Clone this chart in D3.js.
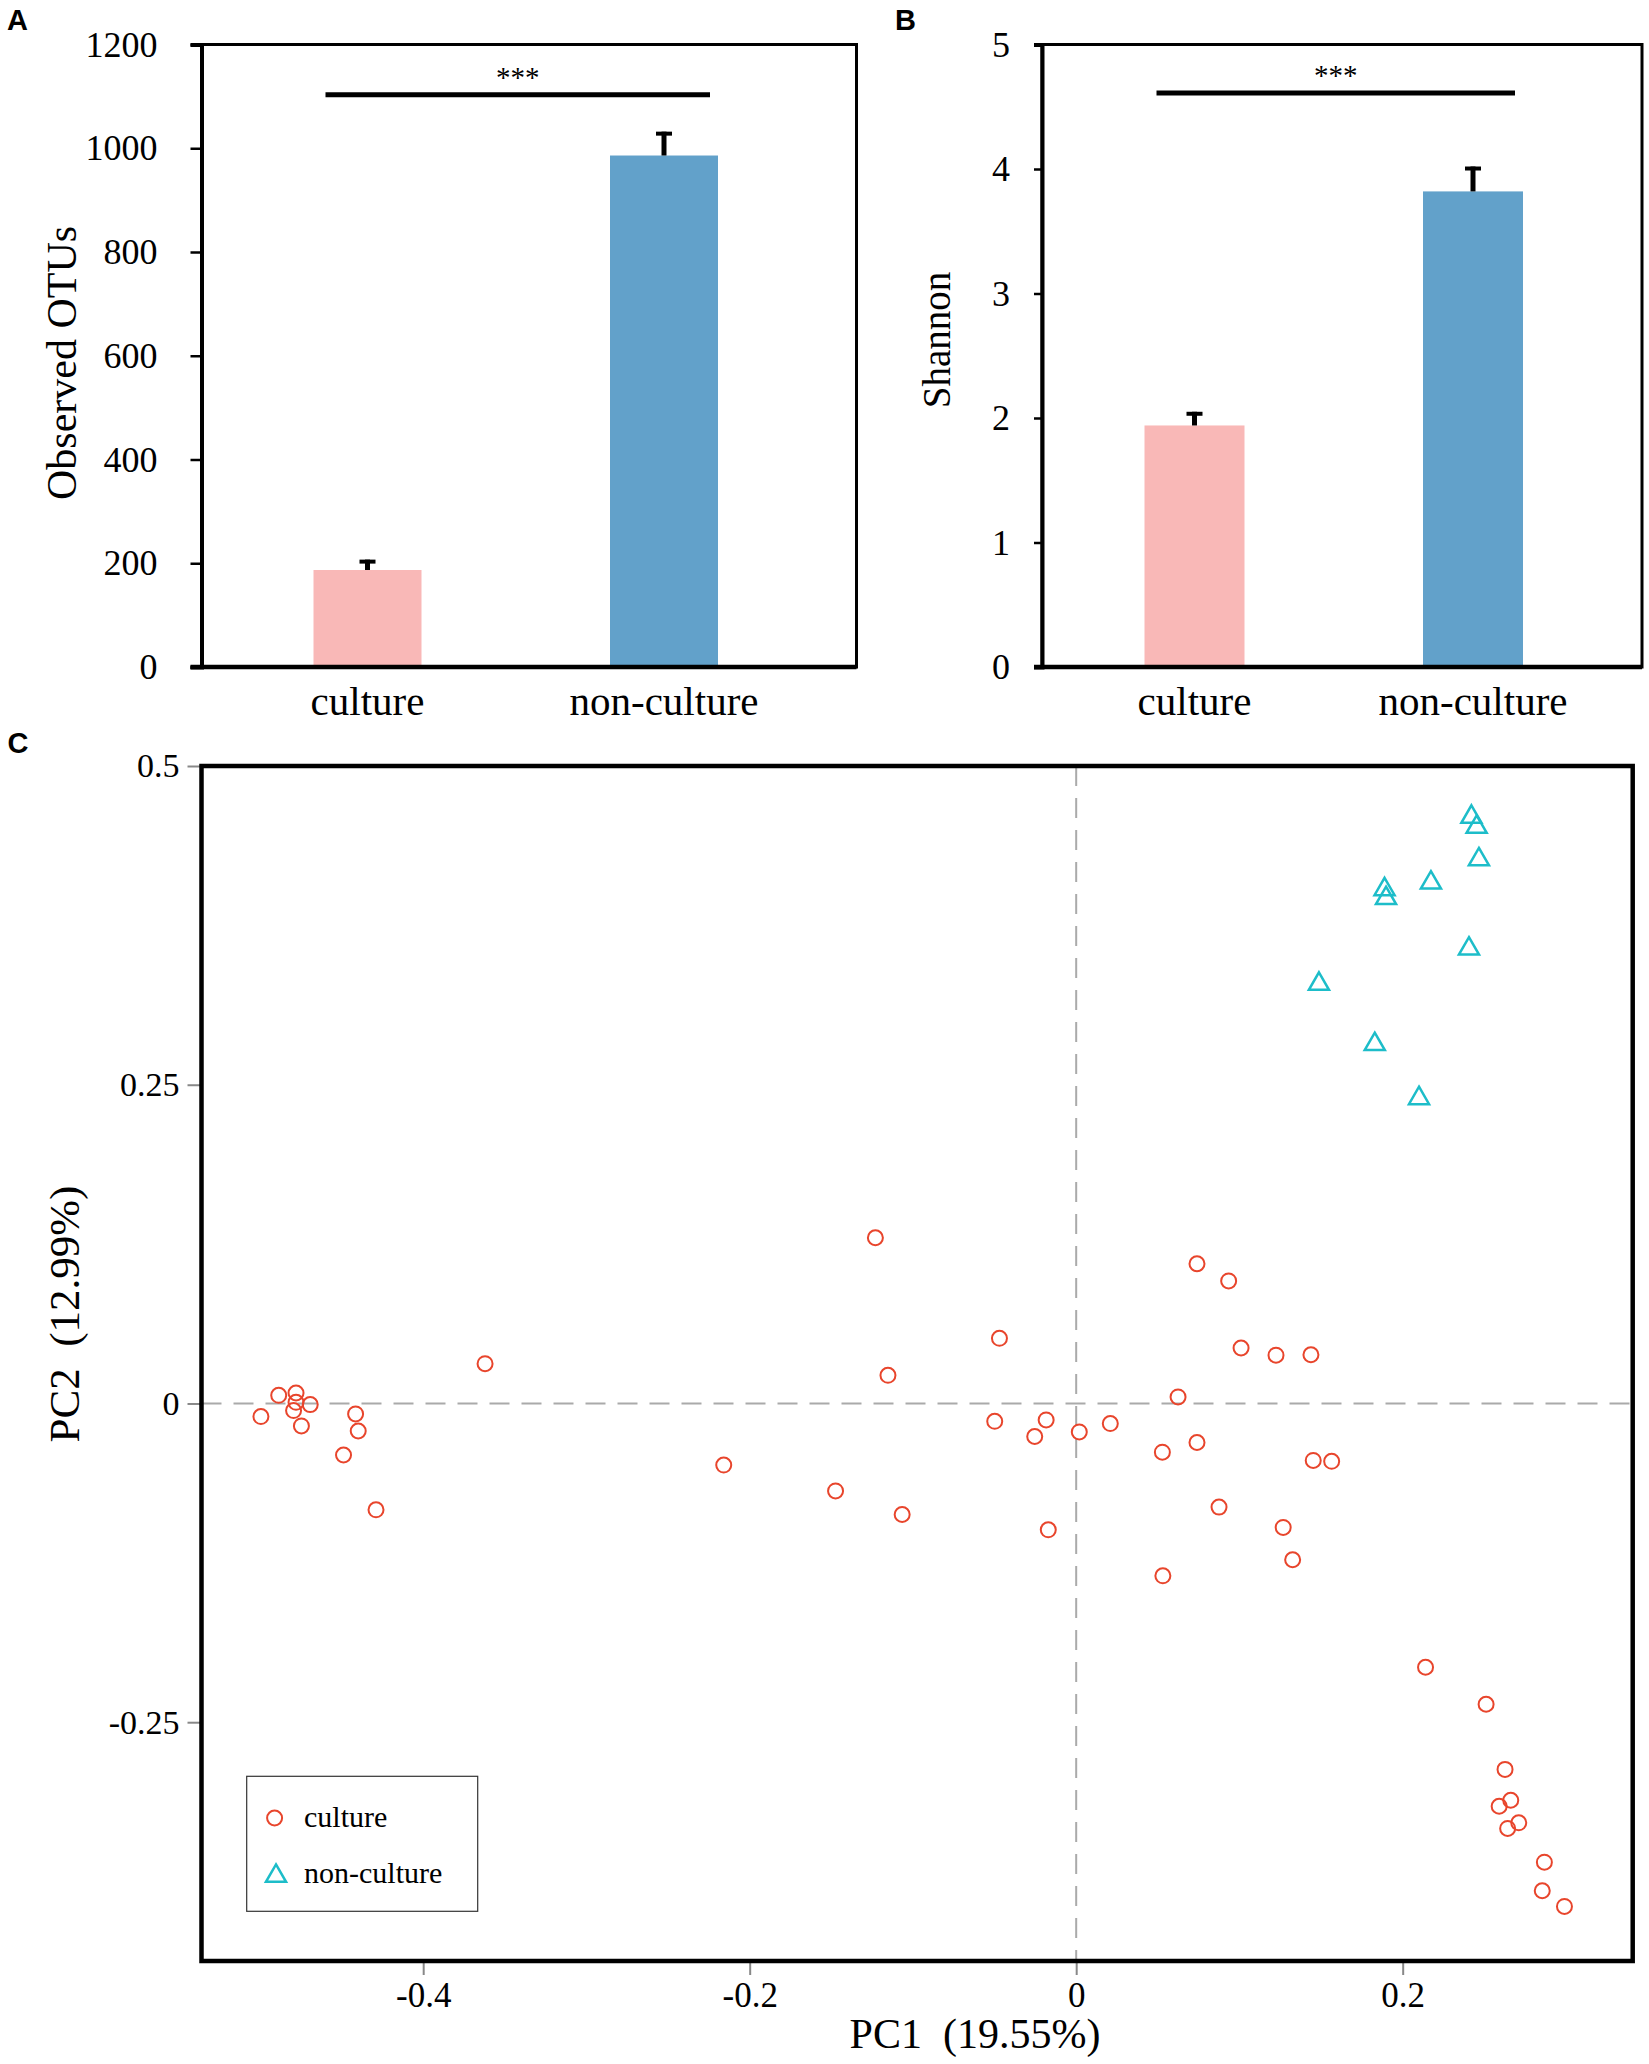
<!DOCTYPE html>
<html>
<head>
<meta charset="utf-8">
<script src="https://cdn.jsdelivr.net/npm/d3@7"></script>
<style>
    body { margin: 0; background: #fff; }
    svg { display: block; }
    text { font-family: 'Liberation Serif', 'Times New Roman', serif; }
    .panel-label { font-family: 'Liberation Sans', Arial, sans-serif; font-weight: bold; font-size: 29px; }
</style>
</head>
<body>
<div id="chart"></div>
<script>
// groups shared by A and B
const groups = ['culture', 'non-culture'];

// panel A: observed OTUs
const otuMean = [187, 986];
const otuErr = [20, 46];
const otuSig = 1103;
const otuTicks = [0, 200, 400, 600, 800, 1000, 1200];

// panel B: shannon
const shannonMean = [1.94, 3.82];
const shannonErr = [0.11, 0.20];
const shannonSig = 4.61;
const shannonTicks = [0, 1, 2, 3, 4, 5];

// panel C: PCoA scores [PC1, PC2]
const culturePts = [
    [-0.1230, 0.1300], [0.0740, 0.1096], [0.0934, 0.0961], [-0.0470, 0.0511],
    [-0.1153, 0.0221], [0.1010, 0.0435], [0.1224, 0.0379], [0.1438, 0.0382],
    [0.0624, 0.0051], [-0.3621, 0.0312],
    [-0.4885, 0.0064], [-0.4779, 0.0082], [-0.4779, 0.0009], [-0.4794, -0.0056],
    [-0.4692, -0.0009], [-0.4994, -0.0103], [-0.4746, -0.0176], [-0.4414, -0.0082],
    [-0.4398, -0.0216], [-0.4488, -0.0404], [-0.4289, -0.0834], [-0.2159, -0.0483],
    [-0.0499, -0.0140], [-0.0184, -0.0129], [-0.0254, -0.0259], [0.0019, -0.0223],
    [0.0209, -0.0158], [0.0528, -0.0382], [0.0740, -0.0306], [0.1452, -0.0447],
    [0.1565, -0.0454], [-0.1474, -0.0686], [-0.1066, -0.0871], [-0.0171, -0.0991],
    [0.0875, -0.0813], [0.1268, -0.0972], [0.1326, -0.1226], [0.0531, -0.1352],
    [0.2140, -0.2069], [0.2511, -0.2359], [0.2627, -0.2870], [0.2662, -0.3112],
    [0.2591, -0.3159], [0.2711, -0.3289], [0.2643, -0.3333], [0.2868, -0.3598],
    [0.2855, -0.3822], [0.2991, -0.3945]
];
const nonCulturePts = [
    [0.2421, 0.4616], [0.2453, 0.4537], [0.2467, 0.4282], [0.2173, 0.4100],
    [0.1889, 0.4048], [0.1898, 0.3978], [0.2406, 0.3582], [0.1487, 0.3306],
    [0.1829, 0.2833], [0.2100, 0.2409]
];
const pcX = [-0.4, -0.2, 0, 0.2];
const pcY = [0.5, 0.25, 0, -0.25];

const barFill = ['#f9b8b7', '#62a1ca'];
const cultureColor = '#e8452c';
const nonCultureColor = '#1dbdc9';

const W = 1649, H = 2064;

const svg = d3.select('#chart')
    .append('svg')
    .attr('width', W)
    .attr('height', H);

function barPanel(opt) {
    const g = svg.append('g');

    const y = d3.scaleLinear()
        .domain(opt.domain)
        .range([opt.bottom, opt.top]);

    const x = d3.scaleBand()
        .domain(groups)
        .range(opt.band);

    const bw = opt.barWidth;

    // frame
    g.append('rect')
        .attr('x', opt.left)
        .attr('y', opt.top)
        .attr('width', opt.right - opt.left)
        .attr('height', opt.bottom - opt.top)
        .attr('fill', 'none')
        .attr('stroke', '#000')
        .attr('stroke-width', 3);

    // bars
    g.selectAll('.bar')
        .data(groups)
        .enter()
        .append('rect')
        .attr('class', 'bar')
        .attr('x', d => x(d) + x.bandwidth() / 2 - bw / 2)
        .attr('width', bw)
        .attr('y', (d, i) => y(opt.mean[i]))
        .attr('height', (d, i) => y(0) - y(opt.mean[i]))
        .attr('fill', (d, i) => barFill[i]);

    // error bars (upper only)
    const err = g.selectAll('.err')
        .data(groups)
        .enter()
        .append('g')
        .attr('class', 'err');
    err.append('line')
        .attr('x1', d => x(d) + x.bandwidth() / 2)
        .attr('x2', d => x(d) + x.bandwidth() / 2)
        .attr('y1', (d, i) => y(opt.mean[i]))
        .attr('y2', (d, i) => y(opt.mean[i] + opt.err[i]))
        .attr('stroke', '#000')
        .attr('stroke-width', 5);
    err.append('line')
        .attr('x1', d => x(d) + x.bandwidth() / 2 - 8)
        .attr('x2', d => x(d) + x.bandwidth() / 2 + 8)
        .attr('y1', (d, i) => y(opt.mean[i] + opt.err[i]) + 2)
        .attr('y2', (d, i) => y(opt.mean[i] + opt.err[i]) + 2)
        .attr('stroke', '#000')
        .attr('stroke-width', 4);

    // significance bar
    const c0 = x(groups[0]) + x.bandwidth() / 2;
    const c1 = x(groups[1]) + x.bandwidth() / 2;
    g.append('line')
        .attr('x1', c0 - bw / 2 + 12)
        .attr('x2', c1 + bw / 2 - 8)
        .attr('y1', y(opt.sig))
        .attr('y2', y(opt.sig))
        .attr('stroke', '#000')
        .attr('stroke-width', 5);
    g.append('text')
        .attr('x', (c0 + c1) / 2 + 2)
        .attr('y', y(opt.sig) - 8)
        .attr('text-anchor', 'middle')
        .style('font-size', '29px')
        .text('***');

    // y axis
    const yAxis = g.append('g')
        .attr('transform', `translate(${opt.left},0)`)
        .call(d3.axisLeft(y)
            .tickValues(opt.ticks)
            .tickSize(opt.tickSize)
            .tickPadding(opt.tickPad)
            .tickFormat(d3.format('d')));
    yAxis.select('.domain')
        .attr('stroke-width', 4);
    yAxis.selectAll('.tick line')
        .attr('stroke-width', 2.5);
    yAxis.selectAll('text')
        .style('font-size', '36px')
        .attr('fill', '#000');

    // x axis line + labels
    g.append('line')
        .attr('x1', opt.left - opt.tickSize)
        .attr('x2', opt.right)
        .attr('y1', opt.bottom)
        .attr('y2', opt.bottom)
        .attr('stroke', '#000')
        .attr('stroke-width', 4.5);
    const xAxis = g.append('g')
        .attr('transform', `translate(0,${opt.bottom})`)
        .call(d3.axisBottom(x).tickSize(0).tickPadding(19));
    xAxis.select('.domain').remove();
    xAxis.selectAll('text')
        .style('font-size', '41px')
        .attr('fill', '#000');

    // y title
    g.append('text')
        .attr('transform', `translate(${opt.titleX},${opt.titleY}) rotate(-90)`)
        .attr('text-anchor', 'middle')
        .style('font-size', opt.titleSize + 'px')
        .text(opt.title);

    // panel letter
    g.append('text')
        .attr('class', 'panel-label')
        .attr('x', opt.letterX)
        .attr('y', 29.5)
        .attr('text-anchor', 'middle')
        .text(opt.letter);
}

barPanel({
    letter: 'A', letterX: 17.5,
    left: 201.5, right: 856.5, top: 44.5, bottom: 667,
    band: [219.25, 812.25], barWidth: 108,
    domain: [0, 1200], ticks: otuTicks,
    mean: otuMean, err: otuErr, sig: otuSig,
    tickSize: 11, tickPad: 33,
    title: 'Observed OTUs', titleX: 76, titleY: 363, titleSize: 42
});

barPanel({
    letter: 'B', letterX: 905.5,
    left: 1042, right: 1642, top: 44.5, bottom: 667,
    band: [1055.25, 1612.25], barWidth: 100,
    domain: [0, 5], ticks: shannonTicks,
    mean: shannonMean, err: shannonErr, sig: shannonSig,
    tickSize: 8, tickPad: 24,
    title: 'Shannon', titleX: 950, titleY: 340, titleSize: 39
});

// ---- panel C: PCoA ----
const cL = 201.5, cR = 1632.7, cT = 766, cB = 1961;

const px = d3.scaleLinear()
    .domain([-0.5358, 0.3409])
    .range([cL, cR]);
const py = d3.scaleLinear()
    .domain([-0.4373, 0.5])
    .range([cB, cT]);

const pc = svg.append('g');

// dashed zero lines
pc.append('line')
    .attr('x1', cL).attr('x2', cR)
    .attr('y1', py(0)).attr('y2', py(0))
    .attr('stroke', '#aaa')
    .attr('stroke-width', 2)
    .attr('stroke-dasharray', '20,12');
pc.append('line')
    .attr('x1', px(0)).attr('x2', px(0))
    .attr('y1', cT).attr('y2', cB)
    .attr('stroke', '#aaa')
    .attr('stroke-width', 2)
    .attr('stroke-dasharray', '20,12');

// axes
const fmt = d => (d < 0 ? '-' : '') + String(Math.abs(d));

const pyAxis = pc.append('g')
    .attr('transform', `translate(${cL},0)`)
    .call(d3.axisLeft(py)
        .tickValues(pcY)
        .tickSize(14)
        .tickPadding(8)
        .tickFormat(fmt));
pyAxis.select('.domain').remove();
pyAxis.selectAll('.tick line')
    .attr('stroke', '#888')
    .attr('stroke-width', 2);
pyAxis.selectAll('text')
    .style('font-size', '34px')
    .attr('fill', '#000');

const pxAxis = pc.append('g')
    .attr('transform', `translate(0,${cB})`)
    .call(d3.axisBottom(px)
        .tickValues(pcX)
        .tickSize(14)
        .tickPadding(7)
        .tickFormat(fmt));
pxAxis.select('.domain').remove();
pxAxis.selectAll('.tick line')
    .attr('stroke', '#888')
    .attr('stroke-width', 2);
pxAxis.selectAll('text')
    .style('font-size', '35px')
    .attr('fill', '#000');

// frame
pc.append('rect')
    .attr('x', cL)
    .attr('y', cT)
    .attr('width', cR - cL)
    .attr('height', cB - cT)
    .attr('fill', 'none')
    .attr('stroke', '#000')
    .attr('stroke-width', 4.5);

// points
pc.selectAll('.cult')
    .data(culturePts)
    .enter()
    .append('circle')
    .attr('class', 'cult')
    .attr('cx', d => px(d[0]))
    .attr('cy', d => py(d[1]))
    .attr('r', 7.5)
    .attr('fill', 'none')
    .attr('stroke', cultureColor)
    .attr('stroke-width', 2);

const tri = d3.symbol().type(d3.symbolTriangle).size(175);
pc.selectAll('.noncult')
    .data(nonCulturePts)
    .enter()
    .append('path')
    .attr('class', 'noncult')
    .attr('d', tri)
    .attr('transform', d => `translate(${px(d[0])},${py(d[1]) + 2})`)
    .attr('fill', 'none')
    .attr('stroke', nonCultureColor)
    .attr('stroke-width', 2.5);

// titles
pc.append('text')
    .attr('x', 975)
    .attr('y', 2048)
    .attr('text-anchor', 'middle')
    .style('font-size', '42px')
    .style('white-space', 'pre')
    .text('PC1  (19.55%)');
pc.append('text')
    .attr('transform', `translate(79,1314) rotate(-90)`)
    .attr('text-anchor', 'middle')
    .style('font-size', '43px')
    .style('white-space', 'pre')
    .text('PC2  (12.99%)');

pc.append('text')
    .attr('class', 'panel-label')
    .attr('x', 18)
    .attr('y', 753)
    .attr('text-anchor', 'middle')
    .text('C');

// legend
const lg = pc.append('g');
lg.append('rect')
    .attr('x', 246.7)
    .attr('y', 1776.3)
    .attr('width', 231)
    .attr('height', 135)
    .attr('fill', '#fff')
    .attr('stroke', '#333')
    .attr('stroke-width', 1.2);
lg.append('circle')
    .attr('cx', 274.6)
    .attr('cy', 1818)
    .attr('r', 7.5)
    .attr('fill', 'none')
    .attr('stroke', cultureColor)
    .attr('stroke-width', 2);
lg.append('path')
    .attr('d', tri)
    .attr('transform', 'translate(276,1876)')
    .attr('fill', 'none')
    .attr('stroke', nonCultureColor)
    .attr('stroke-width', 2.5);
lg.selectAll('.lt')
    .data(groups)
    .enter()
    .append('text')
    .attr('class', 'lt')
    .attr('x', 304)
    .attr('y', (d, i) => 1827 + i * 55.5)
    .style('font-size', '30px')
    .text(d => d);
</script>
</body>
</html>
